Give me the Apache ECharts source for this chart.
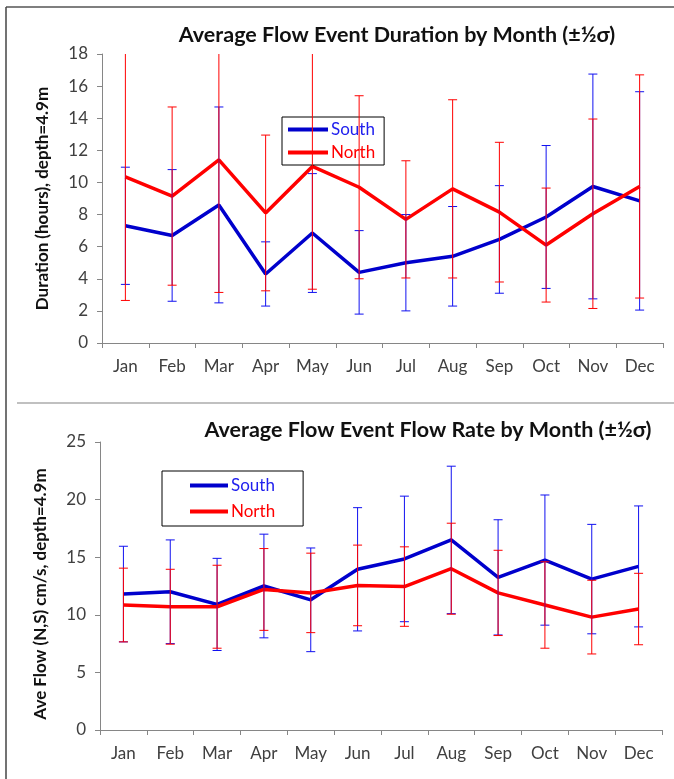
<!DOCTYPE html>
<html>
<head>
<meta charset="utf-8">
<script src="https://cdn.jsdelivr.net/npm/echarts@6.0.0/dist/echarts.min.js"></script>
<style>
  html, body { margin: 0; padding: 0; background: #fff; }
  #main { width: 674px; height: 779px; }
</style>
</head>
<body>
<div id="main"></div>
<script>
const months = ['Jan', 'Feb', 'Mar', 'Apr', 'May', 'Jun', 'Jul', 'Aug', 'Sep', 'Oct', 'Nov', 'Dec'];

// duration (hours) and half sigma
const durSouth = [7.3, 6.7, 8.6, 4.3, 6.85, 4.4, 5.0, 5.4, 6.45, 7.85, 9.75, 8.85];
const durSouthErr = [3.65, 4.1, 6.1, 2.0, 3.7, 2.6, 3.0, 3.1, 3.35, 4.45, 7.0, 6.8];
const durNorth = [10.35, 9.15, 11.4, 8.1, 11.0, 9.7, 7.7, 9.6, 8.15, 6.1, 8.05, 9.75];
const durNorthErr = [7.7, 5.55, 8.25, 4.85, 7.65, 5.7, 3.65, 5.55, 4.35, 3.55, 5.9, 6.95];

// flow rate (cm/s) and half sigma
const flowSouth = [11.8, 12.0, 10.9, 12.5, 11.3, 13.95, 14.85, 16.5, 13.25, 14.75, 13.1, 14.2];
const flowSouthErr = [4.15, 4.5, 4.0, 4.5, 4.5, 5.35, 5.45, 6.4, 5.0, 5.65, 4.75, 5.25];
const flowNorth = [10.85, 10.7, 10.7, 12.2, 11.9, 12.55, 12.45, 14.0, 11.9, 10.85, 9.8, 10.5];
const flowNorthErr = [3.2, 3.25, 3.6, 3.55, 3.45, 3.5, 3.45, 3.95, 3.7, 3.75, 3.2, 3.1];

const blue = '#0000cc';
const blueBar = '#1010f0';
const red = '#ff0000';
const font = 'Lato';

function errData(vals, errs) {
    return vals.map(function (v, i) {
        return [i, v - errs[i], v + errs[i]];
    });
}

function renderErr(color) {
    return function (params, api) {
        const lo = api.coord([api.value(0), api.value(1)]);
        const hi = api.coord([api.value(0), api.value(2)]);
        const w = 4.5;
        const style = { stroke: color, lineWidth: 1 };
        return {
            type: 'group',
            children: [
                { type: 'line', shape: { x1: lo[0], y1: lo[1], x2: hi[0], y2: hi[1] }, style: style },
                { type: 'line', shape: { x1: lo[0] - w, y1: lo[1], x2: lo[0] + w, y2: lo[1] }, style: style },
                { type: 'line', shape: { x1: hi[0] - w, y1: hi[1], x2: hi[0] + w, y2: hi[1] }, style: style }
            ]
        };
    };
}

const axisLine = { lineStyle: { color: '#868686', width: 1 } };
const tickStyle = { show: true, length: 5, lineStyle: { color: '#868686' } };
const labelStyle = { color: '#404040', fontFamily: font, fontSize: 17 };

function xAxis(gridIndex) {
    return {
        type: 'category',
        gridIndex: gridIndex,
        data: months,
        boundaryGap: true,
        axisLine: axisLine,
        axisTick: tickStyle,
        axisLabel: Object.assign({ margin: 15, interval: 0 }, labelStyle)
    };
}

function yAxis(gridIndex, max, interval, name, namePad) {
    return {
        type: 'value',
        gridIndex: gridIndex,
        min: 0,
        max: max,
        interval: interval,
        name: name,
        nameLocation: 'middle',
        nameGap: 51,
        nameTextStyle: { fontFamily: font, fontWeight: 'bold', fontSize: 17, color: '#111', padding: namePad },
        axisLine: Object.assign({ show: true }, axisLine),
        axisTick: tickStyle,
        axisLabel: Object.assign({ margin: 14 }, labelStyle),
        splitLine: { show: false }
    };
}

function lineSeries(name, idx, data, color) {
    return {
        name: name,
        type: 'line',
        xAxisIndex: idx,
        yAxisIndex: idx,
        data: data,
        color: color,
        symbol: 'none',
        lineStyle: { color: color, width: 3.5 },
        z: 3
    };
}

function errSeries(idx, vals, errs, color) {
    return {
        type: 'custom',
        xAxisIndex: idx,
        yAxisIndex: idx,
        data: errData(vals, errs),
        encode: { x: 0, y: [1, 2] },
        renderItem: renderErr(color),
        clip: true,
        silent: true,
        z: 4
    };
}

function legendItem(name, color) {
    return { name: name, textStyle: { color: color } };
}

const chart = echarts.init(document.getElementById('main'));

chart.setOption({
    animation: false,
    backgroundColor: '#fff',
    title: [{
        text: 'Average Flow Event Duration by Month (±½σ)',
        left: 392,
        top: 19,
        textAlign: 'center',
        textStyle: { fontFamily: font, fontWeight: 'bold', fontSize: 21.5, color: '#111' }
    }, {
        text: 'Average Flow Event Flow Rate by Month (±½σ)',
        left: 423,
        top: 414,
        textAlign: 'center',
        textStyle: { fontFamily: font, fontWeight: 'bold', fontSize: 21.5, color: '#111' }
    }],
    legend: [{
        orient: 'vertical',
        left: 282,
        top: 117,
        padding: [4, 9, 4, 6],
        itemGap: 6,
        itemWidth: 40,
        itemHeight: 4,
        icon: 'rect',
        borderColor: '#000',
        borderWidth: 1,
        textStyle: { fontFamily: font, fontSize: 17, padding: [0, 0, 0, -2] },
        data: [legendItem('South', '#2020ee'), legendItem('North', red)]
    }, {
        orient: 'vertical',
        left: 162,
        top: 471,
        padding: [6, 28, 6, 28],
        itemGap: 9,
        itemWidth: 38,
        itemHeight: 4,
        icon: 'rect',
        borderColor: '#000',
        borderWidth: 1,
        textStyle: { fontFamily: font, fontSize: 17, padding: [0, 0, 0, -2] },
        data: [legendItem('South', '#2020ee'), legendItem('North', red)]
    }],
    grid: [
        { left: 102, top: 54, width: 561, height: 289 },
        { left: 100, top: 442, width: 562, height: 288 }
    ],
    xAxis: [xAxis(0), xAxis(1)],
    yAxis: [
        yAxis(0, 18, 2, 'Duration (hours), depth=4.9m', 0),
        yAxis(1, 25, 5, 'Ave Flow (N,S) cm/s, depth=4.9m', [0, 16, 0, 0])
    ],
    series: [
        lineSeries('South', 0, durSouth, blue),
        errSeries(0, durSouth, durSouthErr, blueBar),
        lineSeries('North', 0, durNorth, red),
        errSeries(0, durNorth, durNorthErr, red),
        lineSeries('South', 1, flowSouth, blue),
        errSeries(1, flowSouth, flowSouthErr, blueBar),
        lineSeries('North', 1, flowNorth, red),
        errSeries(1, flowNorth, flowNorthErr, red)
    ],
    graphic: [
        { type: 'line', shape: { x1: 6, y1: 7, x2: 674, y2: 7 }, style: { stroke: '#555', lineWidth: 1.5 } },
        { type: 'line', shape: { x1: 6, y1: 7, x2: 6, y2: 779 }, style: { stroke: '#444', lineWidth: 1.5 } },
        { type: 'line', shape: { x1: 17, y1: 403, x2: 674, y2: 403 }, style: { stroke: '#c0c0c0', lineWidth: 2 } }
    ]
});
</script>
</body>
</html>
